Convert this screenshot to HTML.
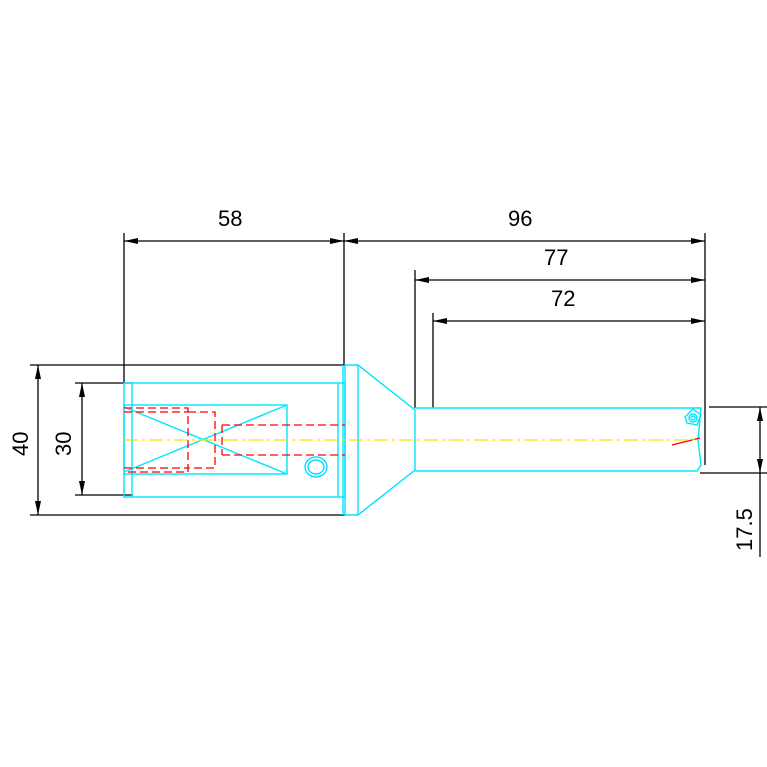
<!DOCTYPE html><html><head><style>body{margin:0;background:#fff}svg{display:block}text{font-family:"Liberation Sans",sans-serif;font-size:22px;fill:#000}</style></head><body>
<svg width="767" height="767" viewBox="0 0 767 767" xmlns="http://www.w3.org/2000/svg">
<g stroke="#000" stroke-width="1.3" fill="none">
<line x1="30" y1="365" x2="345" y2="365"/><line x1="30" y1="515" x2="345" y2="515"/>
<line x1="38" y1="365" x2="38" y2="515"/>
<line x1="75" y1="383" x2="133" y2="383"/><line x1="75" y1="495" x2="133" y2="495"/>
<line x1="82" y1="383" x2="82" y2="495"/>
<line x1="124" y1="233" x2="124" y2="383"/><line x1="344" y1="233" x2="344" y2="365"/>
<line x1="124" y1="241" x2="705" y2="241"/>
<line x1="705" y1="233" x2="705" y2="465"/>
<line x1="415" y1="270" x2="415" y2="408"/><line x1="415" y1="280" x2="705" y2="280"/>
<line x1="433" y1="313" x2="433" y2="408"/><line x1="433" y1="321" x2="705" y2="321"/>
<line x1="709" y1="407" x2="767" y2="407"/><line x1="700" y1="473" x2="767" y2="473"/>
<line x1="760" y1="407" x2="760" y2="557"/>
</g>
<g fill="#000">
<path d="M124 241l14-3v6zM344 241l-14-3v6zM344 241l14-3v6zM705 241l-14-3v6z"/>
<path d="M415 280l14-3v6zM705 280l-14-3v6zM433 321l14-3v6zM705 321l-14-3v6z"/>
<path d="M38 365l-3 14h6zM38 515l-3-14h6zM82 383l-3 14h6zM82 495l-3-14h6z"/>
<path d="M760 407l-3 14h6zM760 473l-3-14h6z"/>
</g>
<g stroke="#00e5ff" stroke-width="1.4" fill="none">
<rect x="124" y="383" width="221" height="114"/>
<line x1="132" y1="383" x2="132" y2="497"/><line x1="338" y1="383" x2="338" y2="497"/><line x1="343" y1="365" x2="343" y2="515"/>
<rect x="124" y="405" width="163" height="69"/>
<line x1="124" y1="407" x2="287" y2="474"/><line x1="124" y1="472" x2="287" y2="405"/>
<path d="M345 365H358L415 410V470L358 515H345Z"/><line x1="358" y1="365" x2="358" y2="515"/>
<path d="M415 408H701L698 440L701 465L697 471H415"/>
<ellipse cx="316" cy="467" rx="11" ry="10"/><ellipse cx="316" cy="467" rx="8" ry="7"/>
<path d="M685 417l8-8 8 6-4 10-10-2z"/><circle cx="693" cy="418" r="4"/><circle cx="693" cy="418" r="2"/>
</g>
<g stroke="#f00" stroke-width="1.3" fill="none" stroke-dasharray="8,4">
<path d="M124 408H188V472H124M124 412H188M124 468H188"/>
<path d="M188 412H215V468H188"/>
<path d="M222 425H345M222 455H345M222 425V455"/>
<line x1="672" y1="445" x2="700" y2="438" stroke-dasharray="none"/>
</g>
<line x1="124" y1="440" x2="700" y2="440" stroke="#ffe000" stroke-width="1.3" stroke-dasharray="14,4,3,4"/>
<text x="218" y="226">58</text><text x="508" y="226">96</text>
<text x="544" y="265">77</text><text x="551" y="306">72</text>
<text transform="translate(28,456) rotate(-90)">40</text>
<text transform="translate(71,456) rotate(-90)">30</text>
<text transform="translate(752,551) rotate(-90)">17.5</text>
</svg></body></html>
